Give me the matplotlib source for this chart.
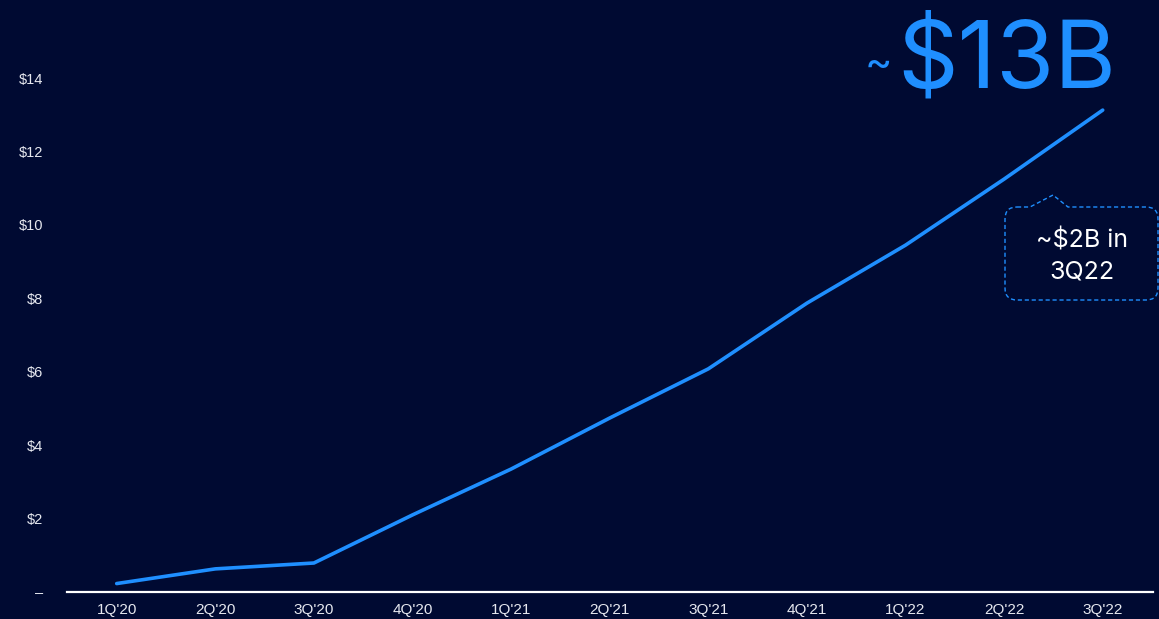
import matplotlib
matplotlib.use("Agg")
import matplotlib.pyplot as plt
from matplotlib.path import Path
from matplotlib.patches import PathPatch

# Quarterly run-rate values ($B)
quarters = ["1Q'20", "2Q'20", "3Q'20", "4Q'20", "1Q'21", "2Q'21",
            "3Q'21", "4Q'21", "1Q'22", "2Q'22", "3Q'22"]
values = [0.23, 0.63, 0.79, 2.1, 3.35, 4.74, 6.08, 7.87, 9.45, 11.25, 13.13]
ytick_values = [0, 2, 4, 6, 8, 10, 12, 14]
ytick_labels = ["–", "$2", "$4", "$6", "$8", "$10", "$12", "$14"]

BG = "#000a32"
BLUE = "#1f8fff"
TXT = "#e6e8ef"

W, H = 1159, 619
fig = plt.figure(figsize=(W / 100, H / 100), dpi=100, facecolor=BG)

ax = fig.add_axes([67 / W, 27 / H, (1153 - 67) / W, (H - 27) / H], facecolor=BG)
x = list(range(len(quarters)))
ax.plot(x, values, color=BLUE, lw=2.6, solid_capstyle="round", solid_joinstyle="round")

ax.set_xlim(-0.504, 10.51)
ax.set_ylim(0, 16.13)
ax.set_xticks(x)
ax.set_xticklabels(quarters, family="Liberation Sans", fontsize=11, color=TXT)
ax.set_yticks(ytick_values)
ax.set_yticklabels(ytick_labels, family="Liberation Sans", fontsize=10.5, color=TXT)
ax.tick_params(axis="both", length=0)
ax.tick_params(axis="y", pad=17)
ax.tick_params(axis="x", pad=8)
for side in ("top", "right", "left"):
    ax.spines[side].set_visible(False)
ax.spines["bottom"].set_color("white")
ax.spines["bottom"].set_linewidth(1.6)

# Overlay in pixel units for the headline and callout
ov = fig.add_axes([0, 0, 1, 1], facecolor="none")
ov.set_xlim(0, W)
ov.set_ylim(H, 0)
ov.axis("off")

ov.text(892, 76, "~", color=BLUE, fontsize=30, family="Inter", ha="right", va="baseline")
ov.text(1116, 88, "$13B", color=BLUE, fontsize=68, family="Inter",
        ha="right", va="baseline")

# Dashed speech-bubble callout
l, r, t, b, rad = 1005, 1158, 207, 300, 12
verts = [
    (l + rad, t), (1030, t), (1053, 195), (1068, t), (r - rad, t),
    (r, t), (r, t + rad),
    (r, b - rad),
    (r, b), (r - rad, b),
    (l + rad, b),
    (l, b), (l, b - rad),
    (l, t + rad),
    (l, t), (l + rad, t),
]
codes = [Path.MOVETO, Path.LINETO, Path.LINETO, Path.LINETO, Path.LINETO,
         Path.CURVE3, Path.CURVE3,
         Path.LINETO,
         Path.CURVE3, Path.CURVE3,
         Path.LINETO,
         Path.CURVE3, Path.CURVE3,
         Path.LINETO,
         Path.CURVE3, Path.CURVE3]
ov.add_patch(PathPatch(Path(verts, codes), fill=False, edgecolor=BLUE,
                       lw=1.0, linestyle=(0, (3, 2))))
ov.text(1082, 240, "~$2B in", color="white", fontsize=18, family="Inter",
        ha="center", va="center")
ov.text(1082, 272, "3Q22", color="white", fontsize=18, family="Inter",
        ha="center", va="center")

fig.savefig("out.png", dpi=100, facecolor=BG)
